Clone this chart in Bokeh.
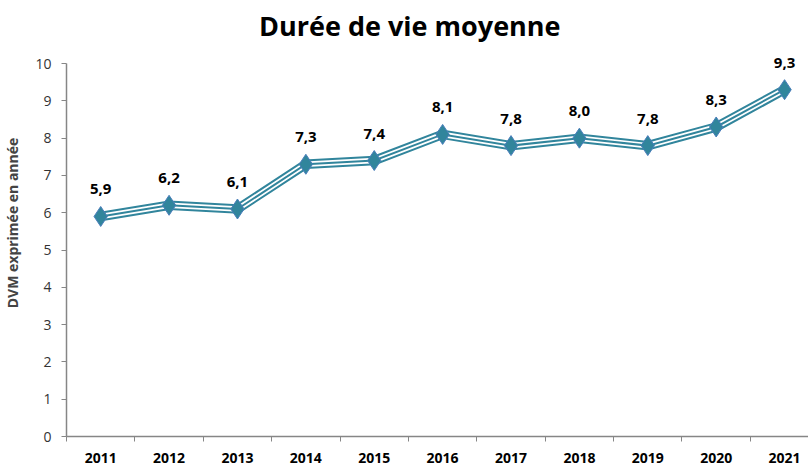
from bokeh.plotting import figure
from bokeh.models import ColumnDataSource, FixedTicker, Range1d, Label
from bokeh.core.properties import value
from bokeh.embed import file_html
from bokeh.resources import INLINE

title = "Durée de vie moyenne"
years = ["2011", "2012", "2013", "2014", "2015", "2016", "2017", "2018", "2019", "2020", "2021"]
dvm = [5.9, 6.2, 6.1, 7.3, 7.4, 8.1, 7.8, 8.0, 7.8, 8.3, 9.3]
y_ticks = [0, 1, 2, 3, 4, 5, 6, 7, 8, 9, 10]

xs = list(range(len(years)))
labels = [f"{v:.1f}".replace(".", ",") for v in dvm]
src = ColumnDataSource(dict(x=xs, y=dvm, lab=labels))

FONT = "Open Sans"
TEAL = "#31859C"

Y_TOP = 11.45  # room above the axis for the title and the last label
p = figure(width=808, height=468, output_backend="svg", toolbar_location=None,
           x_range=Range1d(-0.5, 10.35), y_range=Range1d(0, Y_TOP),
           min_border_left=66, min_border_right=0, min_border_top=9, min_border_bottom=32)
p.outline_line_color = None
p.grid.grid_line_color = None
p.background_fill_color = "white"

p.add_layout(Label(x=4.52, y=11.02, text=title, text_font=FONT, text_font_size="27px",
                   text_font_style="bold", text_align="center", text_baseline="middle",
                   text_color="black"))

# x axis: labels at category centres, ticks at boundaries
xa = p.xaxis[0]
xa.ticker = FixedTicker(ticks=xs, minor_ticks=[i - 0.5 for i in range(len(years) + 1)])
xa.major_label_overrides = {i: y for i, y in enumerate(years)}
xa.major_tick_out = 0
xa.major_tick_in = 0
xa.minor_tick_out = 5
xa.minor_tick_in = 0
xa.minor_tick_line_color = "#868686"
xa.axis_line_color = "#868686"
xa.axis_line_width = 1.5
xa.major_label_text_font = FONT
xa.major_label_text_font_style = "bold"
xa.major_label_text_font_size = "14px"
xa.major_label_text_color = "black"
xa.major_label_standoff = 11

ya = p.yaxis[0]
ya.ticker = FixedTicker(ticks=y_ticks)
ya.bounds = (0, 10)
ya.minor_tick_line_color = None
ya.major_tick_out = 5
ya.major_tick_in = 0
ya.major_tick_line_color = "#868686"
ya.axis_line_color = "#868686"
ya.axis_line_width = 1.5
ya.major_label_text_font = FONT
ya.major_label_text_font_size = "14px"
ya.major_label_text_color = "#333333"
ya.major_label_standoff = 10
ya.axis_label = "DVM exprimée en année"
ya.axis_label_text_font = FONT
ya.axis_label_text_font_style = "bold"
ya.axis_label_text_font_size = "14px"
ya.axis_label_standoff = 10

# compound (triple) line
p.line("x", "y", source=src, line_color=TEAL, line_width=9.5, line_join="miter")
p.line("x", "y", source=src, line_color="white", line_width=5.5, line_join="miter")
p.line("x", "y", source=src, line_color=TEAL, line_width=2, line_join="miter")

p.scatter("x", "y", source=src, marker="diamond", size=20,
          fill_color=TEAL, line_color="#4A7EBB", line_width=1)

p.text("x", "y", text="lab", source=src, text_font=value(FONT), text_font_style="bold",
       text_font_size="15px", text_align="center", text_baseline="middle",
       y_offset=-27, text_color="black")

open("out.html", "w").write(file_html(p, INLINE))
